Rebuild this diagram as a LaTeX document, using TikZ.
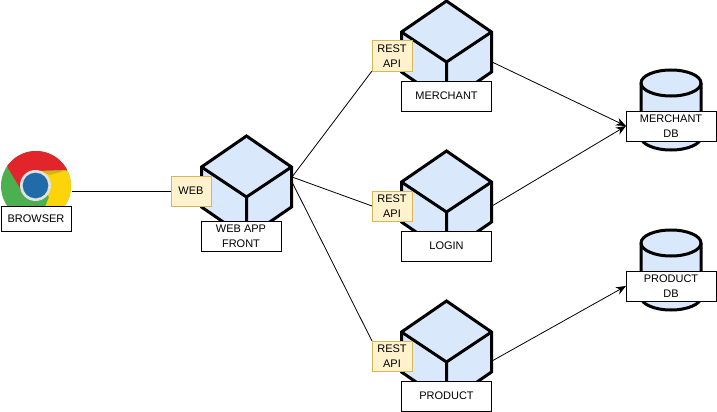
\documentclass[tikz,border=0pt]{standalone}
\usepackage{fontspec}
\setmainfont{Liberation Sans}
\usetikzlibrary{arrows.meta,backgrounds}
\definecolor{cubefill}{HTML}{DAE8FC}
\definecolor{tagfill}{HTML}{FFF2CC}
\definecolor{tagline}{HTML}{D6B656}
\definecolor{chromegreen}{RGB}{76,175,80}
\definecolor{chromeyellow}{RGB}{253,212,10}
\definecolor{chromered}{RGB}{225,37,42}
\definecolor{chromeshade}{RGB}{214,180,20}
\definecolor{chromering}{RGB}{225,225,225}
\definecolor{chromeblue}{RGB}{33,107,168}
\tikzset{
  x=1pt,y=-1pt,
  solid shape/.style={draw=black,line width=3pt,fill=cubefill,line join=miter},
  edge line/.style={draw=black,line width=3pt,line join=miter},
  caption/.style={draw=black,fill=white,line width=1pt,align=center,inner sep=0pt,outer sep=0pt,
    font=\fontsize{11}{15}\selectfont,text=black},
  tag/.style={draw=tagline,fill=tagfill,line width=1pt,align=center,inner sep=0pt,outer sep=0pt,
    minimum width=40pt,minimum height=30pt,font=\fontsize{11}{15}\selectfont,text=black},
  link/.style={draw=black,line width=0.8pt},
  linkto/.style={link,-{Stealth[length=10pt,width=8pt]}},
}
\newcommand{\cubeshape}[2]{%
  \begin{scope}[shift={(#1,#2)}]
    \path[solid shape] (0,0) -- (45,31) -- (45,71) -- (0,102) -- (-45,71) -- (-45,31) -- cycle;
    \path[edge line] (-45,31) -- (0,61) -- (45,31) (0,61) -- (0,102);
  \end{scope}}
\newcommand{\dbshape}[2]{%
  \begin{scope}[shift={(#1,#2)}]
    \path[solid shape] (-30,13) -- (-30,67) arc[start angle=180,end angle=360,x radius=30,y radius=-13]
      -- (30,13) arc[start angle=0,end angle=180,x radius=30,y radius=-13] -- cycle;
    \path[edge line] (-30,13) arc[start angle=180,end angle=360,x radius=30,y radius=-13];
  \end{scope}}
\begin{document}
\begin{tikzpicture}
\useasboundingbox (0,0) rectangle (717,412);
% chrome icon
\begin{scope}
  \clip (36,186) circle[radius=35];
  \fill[chromegreen] (0,150) rectangle (72,235);
  \fill[chromeyellow] (36,171) -- (72,171) -- (75,225) -- (38,225) -- (49,197) -- cycle;
  \fill[chromered] (8,168) -- (23,193) -- (36,171) -- (68,170) -- (75,140) -- (0,140) -- cycle;
  \fill[chromeshade] (40,171) -- (68,170) -- (50,175) -- cycle;
\end{scope}
\fill[chromering] (35.5,185.5) circle[radius=15.5];
\fill[chromeblue] (35.5,185.5) circle[radius=12.8];
% free ends of the connectors, on the shapes
\coordinate (webin) at (72,191);
\coordinate (frontout1) at (292,177);
\coordinate (frontout2) at (292,182);
\coordinate (mout) at (492,62);
\coordinate (lout) at (492,206);
\coordinate (pout) at (492,361);
% shapes
\cubeshape{246.5}{136}
\cubeshape{446.5}{1}
\cubeshape{446.5}{151}
\cubeshape{446.5}{301}
\dbshape{671}{70}
\dbshape{671}{230}
% tags
\node[tag] (webtag) at (191,191) {WEB};
\node[tag] (mtag) at (392,56) {REST\\API};
\node[tag] (ltag) at (392,206) {REST\\API};
\node[tag] (ptag) at (392,356) {REST\\API};
% captions
\node[caption,minimum width=70pt,minimum height=25pt] (browser) at (36,218.5) {BROWSER};
\node[caption,minimum width=80pt,minimum height=30pt] (front) at (241,236) {WEB APP\\FRONT};
\node[caption,minimum width=90pt,minimum height=30pt] (merchant) at (446.5,96) {MERCHANT};
\node[caption,minimum width=90pt,minimum height=30pt] (login) at (446.5,246) {LOGIN};
\node[caption,minimum width=90pt,minimum height=30pt] (product) at (446.5,396) {PRODUCT};
\node[caption,minimum width=90pt,minimum height=30pt] (mdb) at (671,126) {MERCHANT\\DB};
\node[caption,minimum width=90pt,minimum height=30pt] (pdb) at (671,286) {PRODUCT\\DB};
% connectors
\begin{scope}[on background layer]
  \draw[link] (webin) -- (webtag.west);
  \draw[link] (frontout1) -- (mtag.south west);
  \draw[link] (frontout1) -- (ltag.west);
  \draw[link] (frontout2) -- (ptag.north west);
\end{scope}
\draw[linkto] (mout) -- (mdb.west);
\draw[linkto] (lout) -- (mdb.west);
\draw[linkto] (pout) -- (pdb.west);
\end{tikzpicture}
\end{document}
